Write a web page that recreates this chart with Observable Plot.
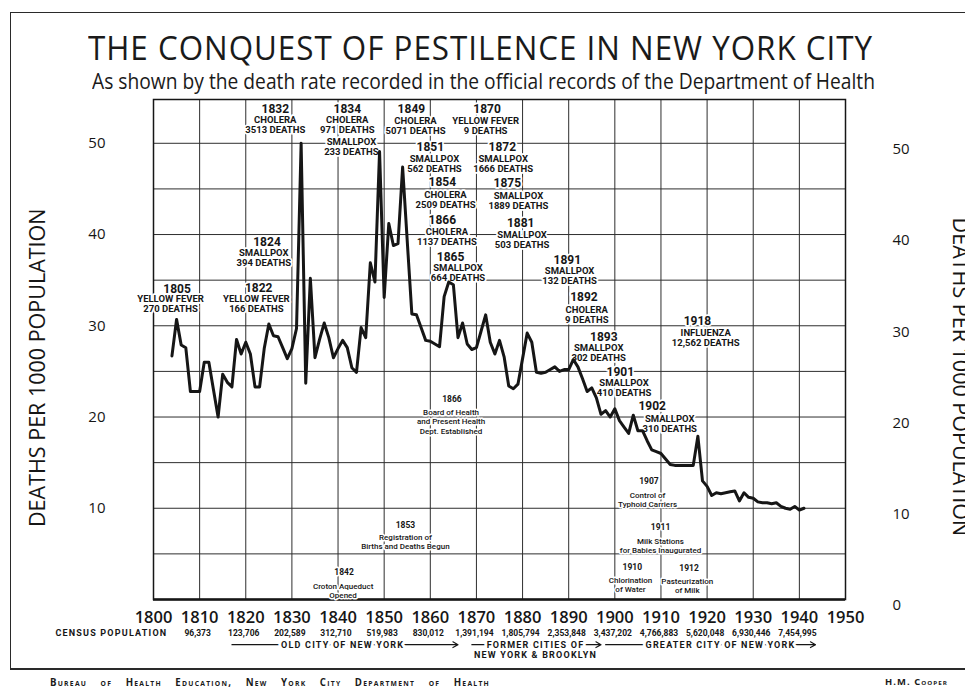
<!DOCTYPE html>
<html>
<head>
<meta charset="utf-8">
<script src="https://cdn.jsdelivr.net/npm/d3@7"></script>
<script src="https://cdn.jsdelivr.net/npm/@observablehq/plot@0.6"></script>
<style>
  html, body { margin: 0; padding: 0; background: #ffffff; width: 965px; height: 689px; overflow: hidden; }
  #page { position: relative; width: 965px; height: 689px; color: #1a1a1a; font-family: "Open Sans", sans-serif; }
  #bTop { position: absolute; left: 10px; top: 12px; width: 955px; height: 0; border-top: 1.5px solid #2a2a2a; }
  #bLeft { position: absolute; left: 10px; top: 12px; width: 0; height: 657px; border-left: 1.5px solid #2a2a2a; }
  #bBottom { position: absolute; left: 10px; top: 668px; width: 955px; height: 0; border-top: 2px solid #2a2a2a; }
  .fit { position: absolute; white-space: nowrap; transform-origin: 0 0; line-height: 1; }
  #title { left: 88px; top: 32px; font-size: 32px; font-weight: 400; letter-spacing: 1px; }
  #subtitle { left: 92px; top: 71px; font-size: 21px; font-weight: 400; }
  #footer { left: 50px; top: 677px; font-size: 10px; font-weight: 700; font-variant: small-caps; letter-spacing: 1.3px; word-spacing: 10px; }
  #author { left: 885px; top: 677px; font-size: 9px; font-weight: 700; font-variant: small-caps; letter-spacing: 1px; }
  #chart { position: absolute; left: 0; top: 92px; }
  #chart svg { overflow: visible; }
  .spaced text { letter-spacing: 1.2px; }
</style>
</head>
<body>
<div id="page">
  <div id="bTop"></div><div id="bLeft"></div><div id="bBottom"></div>
  <div id="title" class="fit" data-w="785">THE CONQUEST OF PESTILENCE IN NEW YORK CITY</div>
  <div id="subtitle" class="fit" data-w="783">As shown by the death rate recorded in the official records of the Department of Health</div>
  <div id="chart"></div>
  <div id="footer" class="fit" data-w="440">Bureau of Health Education, New York City Department of Health</div>
  <div id="author" class="fit" data-w="63">H.M. Cooper</div>
</div>
<script>
// ---------- data ----------
const years = [1804,1805,1806,1807,1808,1809,1810,1811,1812,1813,1814,1815,1816,1817,1818,1819,
  1820,1821,1822,1823,1824,1825,1826,1827,1828,1829,1830,1831,1832,1833,1834,1835,1836,1837,1838,1839,
  1840,1841,1842,1843,1844,1845,1846,1847,1848,1849,1850,1851,1852,1853,1854,1855,1856,1857,1858,1859,
  1860,1861,1862,1863,1864,1865,1866,1867,1868,1869,1870,1871,1872,1873,1874,1875,1876,1877,1878,1879,
  1880,1881,1882,1883,1884,1885,1886,1887,1888,1889,1890,1891,1892,1893,1894,1895,1896,1897,1898,1899,
  1900,1901,1902,1903,1904,1905,1906,1907,1908,1909,1910,1911,1912,1913,1914,1915,1916,1917,1918,1919,
  1920,1921,1922,1923,1924,1925,1926,1927,1928,1929,1930,1931,1932,1933,1934,1935,1936,1937,1938,1939,
  1940,1941];
const deathRate = [26.7,30.7,27.9,27.6,22.8,22.8,22.8,26.0,26.0,23.0,20.0,24.7,23.8,23.3,28.5,26.9,
  28.2,26.9,23.3,23.3,27.5,30.2,28.9,28.8,27.6,26.4,27.5,29.7,50.0,23.7,35.2,26.5,28.5,30.3,28.7,26.5,
  27.5,28.4,27.6,25.4,24.9,29.8,28.7,36.9,34.8,49.1,33.1,41.2,38.8,39.0,47.4,39.3,31.3,31.2,29.8,28.4,
  28.3,28.0,27.7,33.2,34.8,34.5,28.7,30.3,28.0,27.4,27.6,29.4,31.2,28.2,26.9,28.4,26.6,23.4,23.1,23.6,
  26.4,29.2,28.2,24.9,24.8,24.9,25.2,25.5,25.0,25.2,25.2,26.3,25.5,24.2,22.8,23.2,22.1,20.3,20.7,20.0,
  20.9,19.6,18.9,18.2,20.2,18.5,18.5,17.4,16.4,16.2,16.0,15.4,14.8,14.7,14.7,14.7,14.7,14.7,17.9,13.0,
  12.4,11.4,11.7,11.6,11.7,11.8,11.9,10.8,11.7,11.2,11.1,10.7,10.6,10.6,10.5,10.6,10.2,10.0,9.9,10.2,
  9.8,10.0];

const decadeTicks = [1800,1810,1820,1830,1840,1850,1860,1870,1880,1890,1900,1910,1920,1930,1940,1950];
const innerDecades = [1810,1820,1830,1840,1850,1860,1870,1880,1890,1900,1910,1920,1930,1940];
const gridRates = [5,10,15,20,25,30,35,40,45,50];
const rateTicksLeft = [10,20,30,40,50];
const rateTicksRight = [0,10,20,30,40,50];

const censusYears = [1810,1820,1830,1840,1850,1860,1870,1880,1890,1900,1910,1920,1930,1940];
const censusPop = ["96,373","123,706","202,589","312,710","519,983","830,012","1,391,194","1,805,794",
  "2,353,848","3,437,202","4,766,883","5,620,048","6,930,446","7,454,995"];

// epidemic notes: header (year) and body text, anchored in data units (year, rate)
const epiHeadText = ["1832","1834","1849","1870","1851","1872","1854","1875","1866","1881","1865","1824","1805","1822","1891","1892","1893","1901","1902","1918"];
const epiHeadX = [1826.4,1842.0,1855.9,1872.3,1860.0,1875.6,1862.6,1876.7,1862.6,1879.6,1864.4,1824.6,1805.1,1822.8,1889.7,1893.3,1897.6,1901.2,1908.1,1917.9];
const epiHeadY = [53.7,53.7,53.7,53.7,49.6,49.6,45.7,45.6,41.6,41.2,37.5,39.2,34.05,34.1,37.2,33.1,28.7,24.9,21.2,30.5];
const epiBodyText = ["CHOLERA\n3513 DEATHS","CHOLERA\n971 DEATHS","SMALLPOX\n233 DEATHS","CHOLERA\n5071 DEATHS",
  "YELLOW FEVER\n9 DEATHS","SMALLPOX\n562 DEATHS","SMALLPOX\n1666 DEATHS","CHOLERA\n2509 DEATHS","SMALLPOX\n1889 DEATHS",
  "CHOLERA\n1137 DEATHS","SMALLPOX\n503 DEATHS","SMALLPOX\n664 DEATHS","SMALLPOX\n394 DEATHS","YELLOW FEVER\n270 DEATHS",
  "YELLOW FEVER\n166 DEATHS","SMALLPOX\n132 DEATHS","CHOLERA\n9 DEATHS","SMALLPOX\n302 DEATHS","SMALLPOX\n410 DEATHS",
  "SMALLPOX\n310 DEATHS","INFLUENZA\n12,562 DEATHS"];
const epiBodyX = [1826.4,1842.0,1842.9,1856.8,1872.0,1860.9,1875.8,1863.3,1879.1,1863.6,1879.9,1866.0,1823.9,1803.7,1822.3,1890.2,1893.9,1896.5,1902.0,1911.9,1919.7];
const epiBodyY = [52.0,52.0,49.6,51.95,51.95,47.8,47.8,43.8,43.7,39.75,39.4,35.8,37.5,32.4,32.4,35.5,31.2,27.0,23.15,19.3,28.7];

// public health milestones
const mileHeadText = ["1866","1853","1842","1907","1911","1910","1912"];
const mileHeadX = [1864.7,1854.6,1841.3,1907.4,1909.9,1903.8,1916.1];
const mileHeadY = [21.9,8.1,3.0,13.0,7.9,3.5,3.4];
const mileBodyText = ["Board of Health\nand Present Health\nDept. Established","Registration of\nBirths and Deaths Begun",
  "Croton Aqueduct\nOpened","Control of\nTyphoid Carriers","Milk Stations\nfor Babies Inaugurated","Chlorination\nof Water","Pasteurization\nof Milk"];
const mileBodyX = [1864.5,1854.6,1841.1,1907.1,1909.9,1903.4,1915.7];
const mileBodyY = [19.5,6.3,1.0,10.9,5.95,1.67,1.57];

// city boundary periods
const periodText = ["OLD CITY OF NEW YORK","FORMER CITIES OF","GREATER CITY OF NEW YORK"];
const periodStart = [1817,1869,1898];
const periodEnd = [1866,1897,1943.5];
const periodMid = [1841,1882.8,1922.9];

// ---------- tables ----------
const series = years.map((yr, i) => ({year: yr, rate: deathRate[i]}));
const census = censusYears.map((yr, i) => ({year: yr, pop: censusPop[i]}));
const epiHeads = epiHeadText.map((t, i) => ({t, x: epiHeadX[i], y: epiHeadY[i]}));
const epiBodies = epiBodyText.map((t, i) => ({t, x: epiBodyX[i], y: epiBodyY[i]}));
const mileHeads = mileHeadText.map((t, i) => ({t, x: mileHeadX[i], y: mileHeadY[i]}));
const mileBodies = mileBodyText.map((t, i) => ({t, x: mileBodyX[i], y: mileBodyY[i]}));
const periods = periodText.map((t, i) => ({t, x1: periodStart[i], x2: periodEnd[i], xm: periodMid[i]}));

const INK = "#161616";
const GRID = "#2e2e2e";
const CONDENSED = "Roboto, 'DejaVu Sans', sans-serif";

const chart = Plot.plot({
  width: 965,
  height: 569,
  marginLeft: 153,
  marginRight: 120,
  marginTop: 7,
  marginBottom: 62,
  x: {domain: [1800, 1950], label: null},
  y: {domain: [0, 54.8], label: null},
  style: {background: "transparent", color: INK, fontFamily: "'Open Sans', sans-serif", overflow: "visible"},
  marks: [
    Plot.ruleX(innerDecades, {stroke: GRID, strokeWidth: 1}),
    Plot.ruleY(gridRates, {stroke: GRID, strokeWidth: 1}),
    Plot.frame({stroke: INK, strokeWidth: 1.5}),
    Plot.ruleY([0], {stroke: INK, strokeWidth: 2.5}),

    // epidemic notes
    Plot.text(epiBodies, {x: "x", y: "y", text: "t", fontFamily: CONDENSED, fontSize: 9.5, fontWeight: 700,
      lineHeight: 1.05, fill: INK, stroke: "white", strokeWidth: 3.5}),
    Plot.text(epiHeads, {x: "x", y: "y", text: "t", fontFamily: CONDENSED, fontSize: 12, fontWeight: 700,
      fill: INK, stroke: "white", strokeWidth: 3.5}),

    // public health milestones
    Plot.text(mileBodies, {x: "x", y: "y", text: "t", fontFamily: CONDENSED, fontSize: 8, fontWeight: 500,
      lineHeight: 1.13, fill: INK, stroke: "white", strokeWidth: 3}),
    Plot.text(mileHeads, {x: "x", y: "y", text: "t", fontFamily: CONDENSED, fontSize: 8.5, fontWeight: 700,
      fill: INK, stroke: "white", strokeWidth: 3}),

    // death rate line
    Plot.line(series, {x: "year", y: "rate", stroke: INK, strokeWidth: 3, strokeLinejoin: "round", strokeLinecap: "round"}),

    // axes
    Plot.axisX(decadeTicks, {anchor: "bottom", tickSize: 0, tickPadding: 12, fontSize: 16.5, fontWeight: 600,
      tickFormat: d => String(d), fontFamily: "'Open Sans', sans-serif"}),
    Plot.axisY(rateTicksLeft, {anchor: "left", tickSize: 0, tickPadding: 48, fontSize: 15,
      fontFamily: "'Open Sans', sans-serif"}),
    Plot.axisY(rateTicksRight, {anchor: "right", tickSize: 0, tickPadding: 47, dy: 6, fontSize: 15,
      fontFamily: "'Open Sans', sans-serif"}),

    // census population row
    Plot.text(["CENSUS POPULATION"], {x: 1803, y: -3.7, textAnchor: "end", fontFamily: CONDENSED,
      fontSize: 9, fontWeight: 700, className: "spaced"}),
    Plot.text(census, {x: "year", y: -3.7, text: "pop", dx: -2, fontFamily: CONDENSED, fontSize: 8.5, fontWeight: 700}),

    // city periods
    Plot.arrow(periods, {x1: "x1", x2: "x2", y1: -4.95, y2: -4.95, stroke: INK, strokeWidth: 1.1, headLength: 8}),
    Plot.text(periods, {x: "xm", y: -4.95, text: "t", fontFamily: CONDENSED, fontSize: 9, fontWeight: 700,
      fill: INK, stroke: "white", strokeWidth: 6, className: "spaced"}),
    Plot.text(["NEW YORK & BROOKLYN"], {x: 1882.8, y: -6.05, fontFamily: CONDENSED, fontSize: 9, fontWeight: 700,
      className: "spaced"}),

    // y axis titles
    Plot.text(["DEATHS PER 1000 POPULATION"], {frameAnchor: "left", y: 25.4, dx: -115, rotate: -90,
      textAnchor: "middle", fontSize: 21.5, fontWeight: 500, fontFamily: "'Open Sans', sans-serif"}),
    Plot.text(["DEATHS PER 1000 POPULATION"], {frameAnchor: "right", y: 24.4, dx: 114, rotate: 90,
      textAnchor: "middle", fontSize: 21.5, fontWeight: 500, fontFamily: "'Open Sans', sans-serif"})
  ]
});
document.getElementById("chart").appendChild(chart);

// fit header/footer texts to their measured widths
document.querySelectorAll(".fit").forEach(el => {
  const target = +el.dataset.w;
  const w = el.getBoundingClientRect().width;
  if (w > 0) el.style.transform = `scaleX(${target / w})`;
});
</script>
</body>
</html>
